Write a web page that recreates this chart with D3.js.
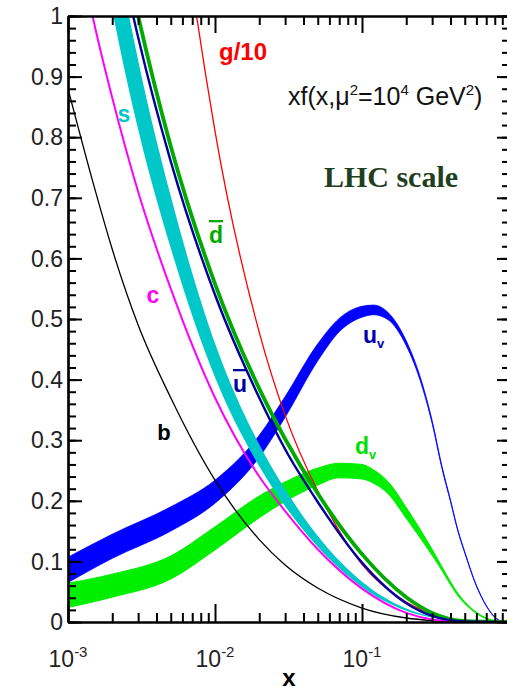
<!DOCTYPE html>
<html>
<head>
<meta charset="utf-8">
<script src="https://cdn.jsdelivr.net/npm/d3@7"></script>
<style>
body { margin: 0; background: #fff; }
svg text { font-family: "Liberation Sans", Arial, sans-serif; }
</style>
</head>
<body>
<svg id="chart" width="507" height="691"></svg>
<script>
// sea quarks and gluon at these x
const xGrid   = [0.001, 0.0015, 0.002, 0.003, 0.005, 0.01, 0.02, 0.03, 0.05, 0.1, 0.2, 0.3, 0.5, 1];
const bVals    = [0.88, 0.72, 0.615, 0.49, 0.37, 0.234, 0.136, 0.094, 0.056, 0.023, 0.0066, 0.0024, 0.0004, 0];
const cVals    = [1.21, 0.99, 0.865, 0.71, 0.55, 0.37, 0.24, 0.183, 0.12, 0.055, 0.015, 0.0043, 0.0003, 0];
const sVals    = [1.56, 1.26, 1.08, 0.87, 0.66, 0.432, 0.275, 0.205, 0.133, 0.062, 0.0205, 0.0081, 0.0016, 0];
const sErr     = [0.10, 0.082, 0.07, 0.057, 0.043, 0.028, 0.018, 0.014, 0.009, 0.0045, 0.0018, 0.0008, 0.0002, 0];
const ubarVals = [1.58, 1.32, 1.16, 0.965, 0.76, 0.54, 0.37, 0.285, 0.198, 0.098, 0.031, 0.010, 0.0008, 0];
const dbarVals = [1.63, 1.36, 1.20, 1.0, 0.785, 0.558, 0.385, 0.302, 0.212, 0.112, 0.041, 0.015, 0.0016, 0];
const gVals    = [4.08, 3.08, 2.52, 1.90, 1.33, 0.81, 0.478, 0.341, 0.216, 0.095, 0.033, 0.0134, 0.0018, 0]; // g/10

// valence bands
const valX   = [0.001, 0.002, 0.005, 0.01, 0.02, 0.03, 0.05, 0.07, 0.1, 0.12, 0.15, 0.2, 0.25, 0.3, 0.35, 0.4, 0.45, 0.5, 0.6, 0.7, 0.8, 0.9, 1];
const uvVals = [0.086, 0.125, 0.17, 0.215, 0.29, 0.355, 0.445, 0.49, 0.512, 0.515, 0.505, 0.46, 0.40, 0.33, 0.255, 0.20, 0.15, 0.115, 0.06, 0.027, 0.008, 0.001, 0];
const uvErr  = [0.021, 0.02, 0.02, 0.019, 0.018, 0.017, 0.014, 0.011, 0.009, 0.008, 0.006, 0.004, 0.003, 0.0025, 0.002, 0.0015, 0.0012, 0.001, 0.0008, 0.0005, 0.0003, 0.0001, 0];
const dvVals = [0.044, 0.06, 0.09, 0.138, 0.19, 0.215, 0.24, 0.25, 0.248, 0.24, 0.222, 0.18, 0.145, 0.115, 0.088, 0.064, 0.045, 0.032, 0.015, 0.006, 0.002, 0.0003, 0];
const dvErr  = [0.02, 0.019, 0.019, 0.019, 0.018, 0.016, 0.014, 0.012, 0.012, 0.011, 0.01, 0.009, 0.007, 0.005, 0.003, 0.0025, 0.002, 0.0015, 0.001, 0.0006, 0.0003, 0.0001, 0];

const xMajor = [1e-3, 1e-2, 1e-1];
const xMajorExp = ['-3', '-2', '-1'];
const yMajor = [0, 0.1, 0.2, 0.3, 0.4, 0.5, 0.6, 0.7, 0.8, 0.9, 1];

const svg = d3.select('#chart');
const x = d3.scaleLog().domain([1e-3, 1]).range([68, 509]);
const y = d3.scaleLinear().domain([0, 1]).range([622, 16]);

svg.append('defs').append('clipPath').attr('id', 'plot')
    .append('rect').attr('x', 68).attr('y', 16).attr('width', 441).attr('height', 606);

const plot = svg.append('g').attr('clip-path', 'url(#plot)');

const zip = (xs, vs, es) => xs.map((d, i) => ({ x: d, v: vs[i], e: es ? es[i] : 0 }));

const band = d3.area()
    .x(d => x(d.x)).y0(d => y(d.v - d.e)).y1(d => y(d.v + d.e))
    .curve(d3.curveMonotoneX);
const line = d3.line()
    .x(d => x(d.x)).y(d => y(d.v))
    .curve(d3.curveMonotoneX);

// bands
plot.append('path').datum(zip(valX, dvVals, dvErr))
    .attr('d', band).attr('fill', '#00ee00').attr('stroke', '#00ee00').attr('stroke-width', 1);
plot.append('path').datum(zip(valX, uvVals, uvErr))
    .attr('d', band).attr('fill', '#0000ff').attr('stroke', '#0000ff').attr('stroke-width', 0.8);
plot.append('path').datum(zip(xGrid, sVals, sErr))
    .attr('d', band).attr('fill', '#00c8c8');

// lines
const lines = [
    { vals: bVals, color: '#000000', w: 1.3 },
    { vals: cVals, color: '#ff00ff', w: 2 },
    { vals: gVals, color: '#ff0000', w: 1.3 },
    { vals: dbarVals, color: '#00aa00', w: 3.8 },
    { vals: ubarVals, color: '#0000a0', w: 2.4 }
];
lines.forEach(s => {
    plot.append('path').datum(zip(xGrid, s.vals))
        .attr('d', line).attr('fill', 'none')
        .attr('stroke', s.color).attr('stroke-width', s.w);
});

// axes
const minorX = [];
for (let e = -3; e < 0; e++) for (let m = 2; m < 10; m++) minorX.push(m * Math.pow(10, e));
const minorY = d3.range(0, 1.001, 0.02);

function styleAxis(g) {
    g.selectAll('line, path').attr('stroke', '#000').attr('stroke-width', 2);
    g.select('.domain').attr('stroke-width', 2.2);
}

const axes = [
    [d3.axisBottom, y(0), minorX, xMajor, -9, -18, 'x'],
    [d3.axisTop, y(1), minorX, xMajor, -9, -17, 'x'],
    [d3.axisLeft, x(1e-3), minorY, yMajor, -8, -14, 'y'],
    [d3.axisRight, x(1), minorY, yMajor, -7, -12, 'y']
];
axes.forEach(([fn, pos, minor, major, ms, Ms, dir]) => {
    const sc = dir === 'x' ? x : y;
    const tr = dir === 'x' ? `translate(0,${pos})` : `translate(${pos},0)`;
    svg.append('g').attr('transform', tr)
        .call(fn(sc).tickValues(minor).tickSize(ms).tickSizeOuter(0).tickFormat(''))
        .call(styleAxis);
    svg.append('g').attr('transform', tr)
        .call(fn(sc).tickValues(major).tickSize(Ms).tickSizeOuter(0).tickFormat(''))
        .call(styleAxis);
});

// y tick labels
svg.append('g').selectAll('text').data(yMajor).join('text')
    .attr('x', 63).attr('y', d => y(d)).attr('dy', '0.36em')
    .attr('text-anchor', 'end').attr('font-size', 23).attr('fill', '#222')
    .text(d => d === 0 ? '0' : d === 1 ? '1' : d.toFixed(1));

// x tick labels: 10^n
const xl = svg.append('g').selectAll('text').data(xMajor).join('text')
    .attr('x', d => x(d)).attr('y', 667).attr('text-anchor', 'middle')
    .attr('font-size', 23).attr('fill', '#222');
xl.append('tspan').text('10');
xl.append('tspan').attr('font-size', 15).attr('dy', -10).text((d, i) => xMajorExp[i]);

svg.append('text').attr('x', 289).attr('y', 686).attr('text-anchor', 'middle')
    .attr('font-size', 24).attr('font-weight', 'bold').text('x');

// curve labels
const lab = (t, xx, yy, color, size) => svg.append('text')
    .attr('x', xx).attr('y', yy).attr('text-anchor', 'middle')
    .attr('font-size', size || 23).attr('font-weight', 'bold').attr('fill', color).text(t);

lab('g/10', 243, 60, '#ff0000', 24);
lab('s', 124, 122, '#00c8c8');
lab('c', 153, 303, '#ff00ff');
lab('b', 164, 440, '#000000', 22);
lab('d', 216, 243, '#00aa00').style('text-decoration', 'overline');
lab('u', 240, 392, '#0000a0').style('text-decoration', 'overline');

const uv = svg.append('text').attr('x', 363).attr('y', 343)
    .attr('font-size', 23).attr('font-weight', 'bold').attr('fill', '#0000b0');
uv.append('tspan').text('u');
uv.append('tspan').attr('font-size', 13).attr('dy', 5).text('v');

const dv = svg.append('text').attr('x', 355).attr('y', 454)
    .attr('font-size', 23).attr('font-weight', 'bold').attr('fill', '#00e000');
dv.append('tspan').text('d');
dv.append('tspan').attr('font-size', 13).attr('dy', 5).text('v');

// title text
const tt = svg.append('text').attr('x', 288).attr('y', 105)
    .attr('font-size', 25).attr('fill', '#111');
tt.append('tspan').text('xf(x,\u03bc');
tt.append('tspan').attr('font-size', 15).attr('dy', -10).text('2');
tt.append('tspan').attr('dy', 10).text('=10');
tt.append('tspan').attr('font-size', 15).attr('dy', -10).text('4');
tt.append('tspan').attr('dy', 10).text(' GeV');
tt.append('tspan').attr('font-size', 15).attr('dy', -10).text('2');
tt.append('tspan').attr('dy', 10).text(')');

svg.append('text').attr('x', 391).attr('y', 187).attr('text-anchor', 'middle')
    .style('font-family', '"Liberation Serif", "DejaVu Serif", serif')
    .attr('font-size', 30).attr('font-weight', 'bold').attr('fill', '#1f3f1f')
    .text('LHC scale');
</script>
</body>
</html>
